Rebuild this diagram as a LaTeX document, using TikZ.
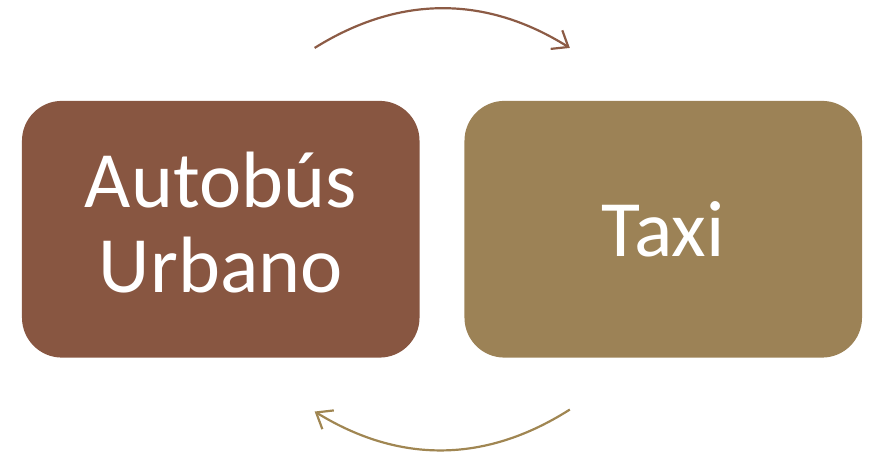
\documentclass[tikz,border=0pt]{standalone}
\usepackage{fontspec}
\setmainfont{Carlito}
\usepackage{tikz}
\usetikzlibrary{positioning,arrows.meta}
\definecolor{busbrown}{HTML}{885641}
\definecolor{taxigold}{HTML}{9C8256}
\definecolor{toparrow}{HTML}{8C5B45}
\definecolor{bottomarrow}{HTML}{A08652}
\tikzset{box style/.style={
		draw=none,
		fill=#1,
		text=white,
		rectangle,
		rounded corners=40pt,
		minimum width=398pt,
		minimum height=257pt,
		inner sep=0pt,
		outer sep=0pt,
		align=center,
		font=\fontsize{80}{85}\selectfont,
	},
	cycle arrow style/.style={
		draw=#1,
		line width=2.2pt,
		-{Straight Barb[length=14pt,width=22pt]},
	}
}
\begin{document}
\begin{tikzpicture}
	\node[box style=busbrown, text depth=14pt] (Bus) {Autobús\\Urbano};
	
	\node[box style=taxigold, right=45pt of Bus] (Taxi) {Taxi};
	
	\coordinate (BusTop) at ([xshift=94pt,yshift=53pt]Bus.north);
	\coordinate (TaxiTop) at ([xshift=-93.5pt,yshift=53pt]Taxi.north);
	\coordinate (TaxiBottom) at ([xshift=-93.5pt,yshift=-52pt]Taxi.south);
	\coordinate (BusBottom) at ([xshift=94pt,yshift=-54pt]Bus.south);
	
	\draw[cycle arrow style=toparrow] (BusTop) to[bend left=32] (TaxiTop);
	\draw[cycle arrow style=bottomarrow] (TaxiBottom) to[bend left=32] (BusBottom);
	
	\pgfresetboundingbox
	\useasboundingbox ([xshift=-22pt,yshift=101pt]Bus.north west) rectangle ([xshift=9pt,yshift=-96pt]Taxi.south east);
\end{tikzpicture}
\end{document}
